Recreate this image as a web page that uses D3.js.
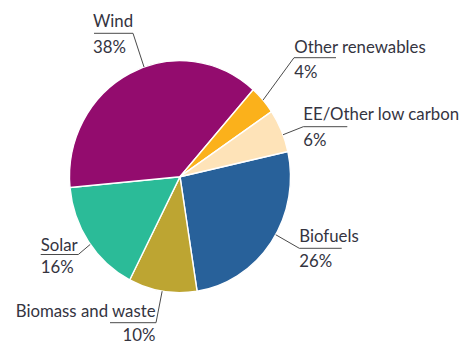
<!DOCTYPE html>
<html>
<head>
<meta charset="utf-8">
<script src="https://cdn.jsdelivr.net/npm/d3@7"></script>
<style>
  html, body { margin: 0; padding: 0; background: #ffffff; }
  svg { display: block; }
  text { font-family: Lato, "Open Sans", sans-serif; font-size: 16.8px; fill: #34343f; }
</style>
</head>
<body>
<svg id="chart" width="463" height="344"></svg>
<script>
// Share of investment by technology (%)
const categories = ["Biofuels", "Biomass and waste", "Solar", "Wind", "Other renewables", "EE/Other low carbon"];
const shares = [26, 10, 16, 38, 4, 6];
const sliceColors = ["#28619a", "#bda532", "#2bbb98", "#930c6e", "#fbb11b", "#fee3b8"];

// Label placement: text position, elbow of the leader, where it meets the rim
const labelLayout = {
  "Wind":                { x: 93,    y: 27,    anchor: "start", lineY: 33.3,  elbowX: 133,   tailX: 94,    rimDeg: 341, gap: 26 },
  "Other renewables":    { x: 294.3, y: 52.7,  anchor: "start", lineY: 57.7,  elbowX: 294,   tailX: 336,   rimDeg: 48.7, gap: 25.6 },
  "EE/Other low carbon": { x: 303.3, y: 120,   anchor: "start", lineY: 126.7, elbowX: 303.3, tailX: 347.3, rimDeg: 68.8, gap: 26 },
  "Biofuels":            { x: 299.3, y: 241.7, anchor: "start", lineY: 248.3, elbowX: 299.3, tailX: 341.7, rimDeg: 120, gap: 25 },
  "Solar":               { x: 40.7,  y: 250.5, anchor: "start", lineY: 254.5, elbowX: 78.3,  tailX: 40.7,  rimDeg: 234.3, gap: 22 },
  "Biomass and waste":   { x: 155.5, y: 317.3, anchor: "end",   lineY: 322.7, elbowX: 156,   tailX: 110,   rimDeg: 189.3, gap: 23.4 }
};

const svg = d3.select("#chart");
const cx = 180, cy = 176.7, radius = 110.5, squash = 1.05;
const startDeg = 77.5;

const rows = categories.map((c, i) => ({ name: c, value: shares[i], color: sliceColors[i] }));

const pie = d3.pie()
  .value(d => d.value)
  .sort(null)
  .startAngle(startDeg * Math.PI / 180)
  .endAngle((startDeg + 360) * Math.PI / 180);

const arc = d3.arc().innerRadius(0).outerRadius(radius);

const pieGroup = svg.append("g")
  .attr("transform", `translate(${cx},${cy}) scale(1,${squash})`);

pieGroup.selectAll("path")
  .data(pie(rows))
  .join("path")
  .attr("d", arc)
  .attr("fill", d => d.data.color)
  .attr("stroke", "#ffffff")
  .attr("stroke-width", 1.4)
  .attr("stroke-linejoin", "round");

// Point on the rim at a given angle (clockwise from 12 o'clock)
function rimPoint(deg) {
  const a = deg * Math.PI / 180;
  return [cx + radius * Math.sin(a), cy - radius * squash * Math.cos(a)];
}

const labels = svg.append("g");

rows.forEach(d => {
  const L = labelLayout[d.name];
  const rim = rimPoint(L.rimDeg);
  const pts = [[L.tailX, L.lineY], [L.elbowX, L.lineY], rim];
  labels.append("path")
    .attr("d", d3.line()(pts))
    .attr("fill", "none")
    .attr("stroke", "#4a4a4a")
    .attr("stroke-width", 1);

  labels.append("text")
    .attr("x", L.x)
    .attr("y", L.y)
    .attr("text-anchor", L.anchor)
    .text(d.name);

  labels.append("text")
    .attr("x", L.x)
    .attr("y", L.y + L.gap)
    .attr("text-anchor", L.anchor)
    .text(d.value + "%");
});
</script>
</body>
</html>
